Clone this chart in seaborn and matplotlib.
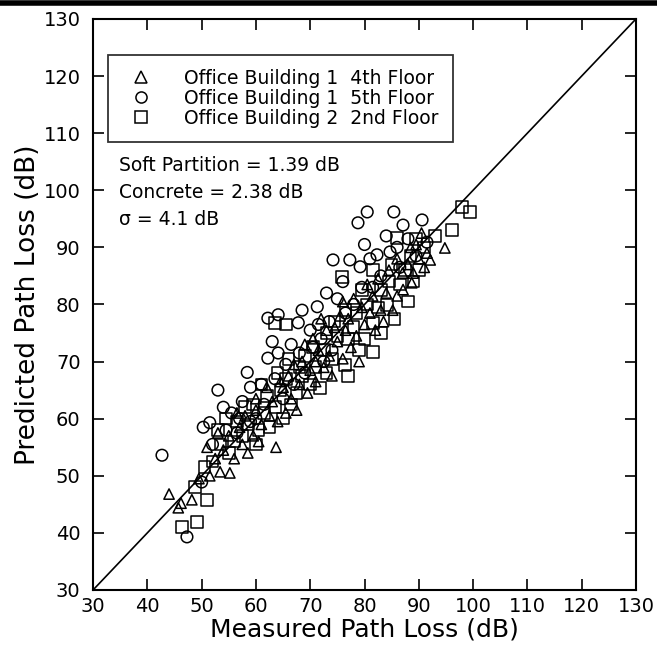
import numpy as np
import pandas as pd
import matplotlib
matplotlib.use("Agg")
import matplotlib.pyplot as plt
from matplotlib.lines import Line2D
import seaborn as sns

# values (dB)
tri_x = [44.0, 45.7, 46.2, 48.2, 49.5, 51.5, 53.4, 55.2, 52.5, 54.0, 56.0, 57.5, 55.0, 58.5,
         59.5, 57.0, 60.5, 61.0, 63.7, 62.5, 60.0, 64.0, 65.5, 63.0, 66.5, 65.0, 67.5, 68.0,
         66.0, 69.5, 70.0, 68.5, 71.0, 72.5, 71.5, 70.5, 73.5, 74.0, 75.0, 73.0, 76.0, 77.5,
         76.5, 75.5, 78.5, 79.0, 77.0, 80.0, 79.5, 78.0, 81.0, 82.0, 81.5, 83.0, 80.5, 84.0,
         82.5, 85.2, 86.0, 84.5, 87.1, 88.7, 87.0, 86.0, 88.0, 89.0, 90.0, 89.5, 91.0, 92.1,
         91.5, 94.8, 90.5, 88.5, 74.5, 72.0, 69.0, 67.0, 62.0, 58.0, 56.5, 53.0, 51.0, 60.0,
         64.5, 71.0, 76.0, 83.5]
tri_y = [46.8, 44.4, 45.2, 45.8, 49.5, 50.0, 50.7, 50.5, 53.0, 54.5, 53.0, 55.5, 57.0, 54.0,
         57.0, 58.5, 56.0, 59.0, 55.0, 60.5, 61.5, 59.5, 61.0, 63.0, 63.5, 65.5, 61.5, 66.0,
         67.5, 64.5, 68.5, 70.0, 66.5, 69.0, 72.0, 74.0, 71.0, 67.5, 73.5, 75.5, 70.5, 72.5,
         75.5, 78.0, 74.5, 70.0, 77.5, 76.5, 79.5, 81.0, 78.5, 75.5, 81.5, 79.0, 83.5, 82.0,
         84.5, 79.0, 81.5, 86.0, 82.6, 83.8, 85.5, 88.0, 87.0, 85.5, 88.0, 90.5, 86.5, 87.8,
         89.0, 89.9, 92.5, 90.0, 76.0, 77.5, 73.0, 69.5, 65.5, 60.5, 61.0, 57.5, 55.0, 63.5,
         66.5, 70.0, 80.5, 77.0]

circ_x = [42.7, 47.3, 50.0, 50.3, 51.5, 53.0, 52.0, 54.5, 55.5, 56.5, 57.5, 58.4, 59.0, 60.0,
          61.0, 62.2, 64.1, 62.2, 64.1, 67.8, 63.5, 65.5, 66.5, 68.0, 69.0, 70.0, 71.3, 70.5,
          72.0, 73.5, 74.2, 75.0, 76.0, 77.3, 79.2, 78.8, 80.5, 78.0, 79.5, 81.0, 82.3, 83.0,
          84.7, 85.4, 87.1, 90.6, 91.5, 86.0, 88.0, 89.5, 84.0, 80.0, 76.5, 74.0, 72.5, 67.0,
          65.0, 61.5, 59.0, 63.0, 57.0, 54.0, 68.5, 73.0, 81.5, 86.5, 71.5]
circ_y = [53.6, 39.3, 48.9, 58.5, 59.3, 65.0, 55.5, 58.0, 61.0, 57.5, 63.0, 68.1, 65.5, 60.0,
          66.0, 70.6, 71.5, 77.6, 78.2, 76.8, 67.0, 69.5, 73.0, 71.5, 68.0, 75.5, 79.6, 72.5,
          74.0, 77.0, 87.8, 81.0, 84.0, 87.8, 86.6, 94.3, 96.2, 80.0, 83.0, 88.0, 88.7, 85.0,
          89.2, 96.2, 93.9, 94.8, 90.9, 90.0, 91.5, 88.5, 92.0, 90.5, 78.5, 72.0, 70.0, 66.0,
          63.5, 62.5, 59.5, 73.5, 60.0, 62.0, 79.0, 82.0, 83.0, 86.5, 76.5]

sq_x = [46.4, 49.1, 48.8, 51.0, 50.5, 52.0, 53.5, 55.0, 56.0, 54.5, 57.5, 58.5, 59.5, 60.5,
        61.5, 62.0, 63.5, 65.5, 63.5, 64.5, 65.5, 66.5, 67.5, 68.5, 69.0, 70.0, 71.8, 71.0,
        72.5, 73.0, 74.0, 75.0, 75.9, 76.4, 77.0, 77.0, 78.0, 78.5, 79.0, 80.0, 80.5, 81.6,
        81.6, 81.6, 82.5, 83.0, 84.1, 84.5, 85.0, 86.0, 86.5, 87.5, 88.5, 89.0, 89.5, 90.0,
        91.0, 96.1, 98.0, 99.4, 93.0, 88.0, 85.5, 83.0, 79.5, 76.5, 74.5, 73.0, 70.5, 68.0,
        66.0, 64.0, 61.0, 58.0, 56.5, 53.0, 60.0, 62.5, 65.0]
sq_y = [41.0, 41.9, 48.0, 45.8, 51.5, 52.5, 55.5, 54.0, 56.0, 60.0, 57.0, 59.0, 62.5, 58.0,
        61.0, 64.0, 76.8, 76.5, 62.0, 65.0, 67.0, 62.5, 64.5, 67.5, 71.0, 66.0, 65.4, 69.0,
        72.0, 68.0, 70.5, 74.5, 84.8, 69.4, 67.5, 74.0, 76.0, 78.5, 72.0, 74.0, 80.0, 71.7,
        76.8, 86.0, 79.5, 82.5, 79.9, 84.0, 87.0, 91.6, 83.5, 86.0, 88.5, 84.0, 91.5, 86.0,
        90.0, 93.0, 97.1, 96.2, 92.0, 80.5, 77.5, 75.0, 82.5, 79.0, 77.0, 75.0, 72.5, 69.0,
        70.5, 68.0, 66.0, 62.0, 59.5, 58.0, 55.5, 58.5, 60.0]

labels = ["Office Building 1  4th Floor", "Office Building 1  5th Floor",
          "Office Building 2  2nd Floor"]
notes = ["Soft Partition = 1.39 dB", "Concrete = 2.38 dB", "\u03c3 = 4.1 dB"]
ticks = list(range(30, 131, 10))

df = pd.concat([
    pd.DataFrame({"measured": tri_x, "predicted": tri_y, "site": labels[0]}),
    pd.DataFrame({"measured": circ_x, "predicted": circ_y, "site": labels[1]}),
    pd.DataFrame({"measured": sq_x, "predicted": sq_y, "site": labels[2]}),
])

sns.set_style("ticks", {"axes.edgecolor": "black", "text.color": "black",
                        "axes.labelcolor": "black", "xtick.color": "black",
                        "ytick.color": "black"})
plt.rcParams["font.family"] = ["DejaVu Sans"]

fig = plt.figure(figsize=(6.57, 6.46), dpi=100)
ax = fig.add_axes([0.1416, 0.0867, 0.8264, 0.884])

markers = {labels[0]: "^", labels[1]: "o", labels[2]: "s"}
sizes = {labels[0]: 55, labels[1]: 70, labels[2]: 70}
for lab in labels:
    sub = df[df["site"] == lab]
    sns.scatterplot(data=sub, x="measured", y="predicted", marker=markers[lab],
                    s=sizes[lab], color="black", linewidth=1.1, ax=ax, legend=False)
for coll in ax.collections:
    coll.set_facecolor("none")
    coll.set_edgecolor("black")

ax.plot([ticks[0], ticks[-1]], [ticks[0], ticks[-1]], color="black", lw=1.2)

ax.set_xlim(30, 130)
ax.set_ylim(30, 130)
ax.set_xticks(ticks)
ax.set_yticks(ticks)
ax.tick_params(direction="in", length=8, width=1.2, top=True, right=True, labelsize=14)
ax.tick_params(axis="y", pad=9)
ax.tick_params(axis="x", pad=5)
for sp in ax.spines.values():
    sp.set_linewidth(1.5)
ax.set_xlabel("Measured Path Loss (dB)", fontsize=18, labelpad=1)
ax.set_ylabel("Predicted Path Loss (dB)", fontsize=19, labelpad=2)

handles = [Line2D([], [], ls="none", marker=markers[l], markersize=8, markerfacecolor="none",
                  markeredgecolor="black", markeredgewidth=1.1) for l in labels]
leg = ax.legend(handles, labels, loc="upper left", bbox_to_anchor=(0.028, 0.937),
                frameon=True, fancybox=False, edgecolor="black", fontsize=13.5,
                borderpad=0.75, handletextpad=1.3, labelspacing=0.05, borderaxespad=0)
leg.get_frame().set_linewidth(1.3)

for i, t in enumerate(notes):
    ax.text(0.048, 0.744 - i * 0.048, t, transform=ax.transAxes, fontsize=13.5, va="center")

fig.add_artist(Line2D([0, 1], [0.996, 0.996], transform=fig.transFigure, color="black", lw=4))

fig.savefig("out.png", dpi=100)
